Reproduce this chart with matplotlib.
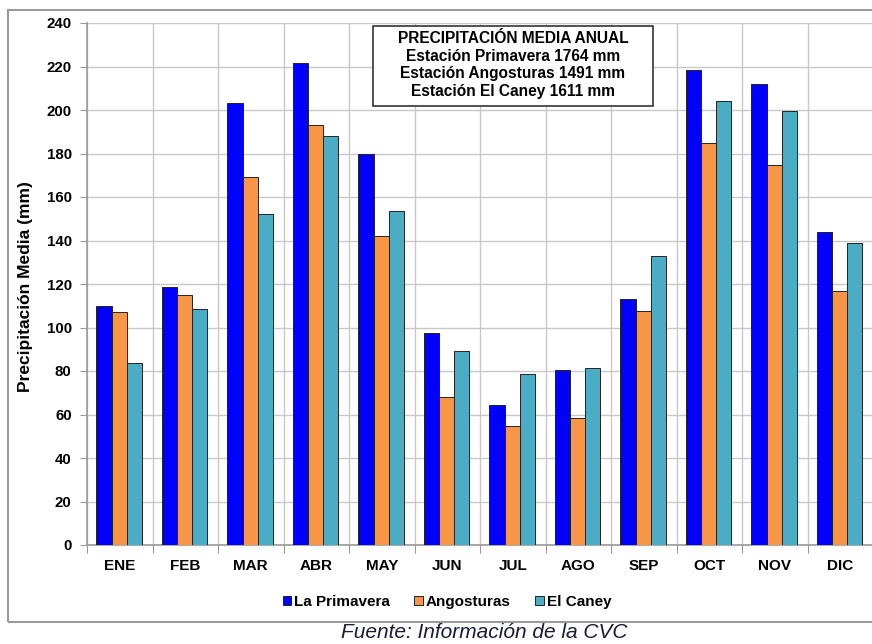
import numpy as np
import matplotlib.pyplot as plt
from matplotlib.patches import Rectangle

plt.rcParams['font.family'] = ['Liberation Sans', 'DejaVu Sans']

# Precipitación media mensual por estación (mm)
meses = ['ENE', 'FEB', 'MAR', 'ABR', 'MAY', 'JUN', 'JUL', 'AGO', 'SEP', 'OCT', 'NOV', 'DIC']
la_primavera = [110, 118.5, 203, 221.5, 180, 97.5, 64.5, 80.5, 113, 218.5, 212, 144]
angosturas = [107, 115, 169, 193, 142, 68, 54.5, 58.5, 107.5, 185, 174.5, 117]
el_caney = [83.5, 108.5, 152, 188, 153.5, 89, 78.5, 81.5, 133, 204, 199.5, 139]

series = ['La Primavera', 'Angosturas', 'El Caney']
colores = ['#0000FF', '#F79646', '#4BACC6']
texto_caja = ('PRECIPITACIÓN MEDIA ANUAL\nEstación Primavera 1764 mm\n'
              'Estación Angosturas 1491 mm\nEstación El Caney 1611 mm')

fig = plt.figure(figsize=(8.72, 6.44), dpi=100)
W, H = 872, 644

# marco exterior del gráfico
fig.patches.append(Rectangle((8 / W, 1 - 622 / H), 1.0, (622 - 10) / H,
                             transform=fig.transFigure, fill=False,
                             edgecolor='#9a9a9a', lw=1.5))

ax = fig.add_axes([87 / W, 1 - 545 / H, 786 / W, 522 / H])

x = np.arange(len(meses))
ancho = 0.23
datos = [la_primavera, angosturas, el_caney]
for i, (vals, nombre, c) in enumerate(zip(datos, series, colores)):
    ax.bar(x + (i - 1) * ancho - 0.01, vals, ancho, color=c, label=nombre,
           edgecolor='#222222', linewidth=0.7, zorder=3)

ax.set_xlim(-0.5, len(meses) - 0.5)
ax.set_ylim(0, 240)
ax.set_yticks(np.arange(0, 241, 20))
ax.set_xticks(np.arange(-0.5, len(meses), 1.0))
ax.set_xticklabels([])
ax.set_xticks(x, minor=True)
ax.set_xticklabels(meses, minor=True, fontsize=11, fontweight='bold')
ax.tick_params(axis='x', which='minor', length=0, pad=10)
ax.tick_params(axis='x', which='major', length=6, color='#999999', direction='out')
ax.tick_params(axis='y', length=5, color='#999999', labelsize=10.8, pad=6)
for t in ax.get_yticklabels():
    t.set_fontweight('bold')

ax.grid(True, which='major', color='#c8c8c8', lw=1.0, zorder=0)
for s in ['top', 'right']:
    ax.spines[s].set_visible(False)
for s in ['left', 'bottom']:
    ax.spines[s].set_color('#999999')
    ax.spines[s].set_linewidth(1.2)

ax.set_ylabel('Precipitación Media (mm)', fontsize=12.5, fontweight='bold')
ax.yaxis.set_label_coords(33 / W, 1 - 287 / H, transform=fig.transFigure)

# recuadro con los totales anuales
fig.patches.append(Rectangle((373 / W, 1 - 106 / H), 280 / W, 80 / H,
                             transform=fig.transFigure, facecolor='white',
                             edgecolor='#333333', lw=1.2, zorder=5))
fig.text(513 / W, 1 - 65 / H, texto_caja, ha='center', va='center',
         fontsize=11.2, fontweight='bold', linespacing=1.24, zorder=6)

leg = fig.legend(loc='center', bbox_to_anchor=(447 / W, 1 - 602 / H), ncol=3,
                 frameon=False, handlelength=0.55, handleheight=0.55,
                 handletextpad=0.2, columnspacing=1.6,
                 prop={'weight': 'bold', 'size': 11})

fig.text(484 / W, 1 - 633 / H, 'Fuente: Información de la CVC', ha='center',
         va='center', fontsize=15, fontstyle='italic', color='#1a1a3a')

fig.savefig('out.png', dpi=100)
